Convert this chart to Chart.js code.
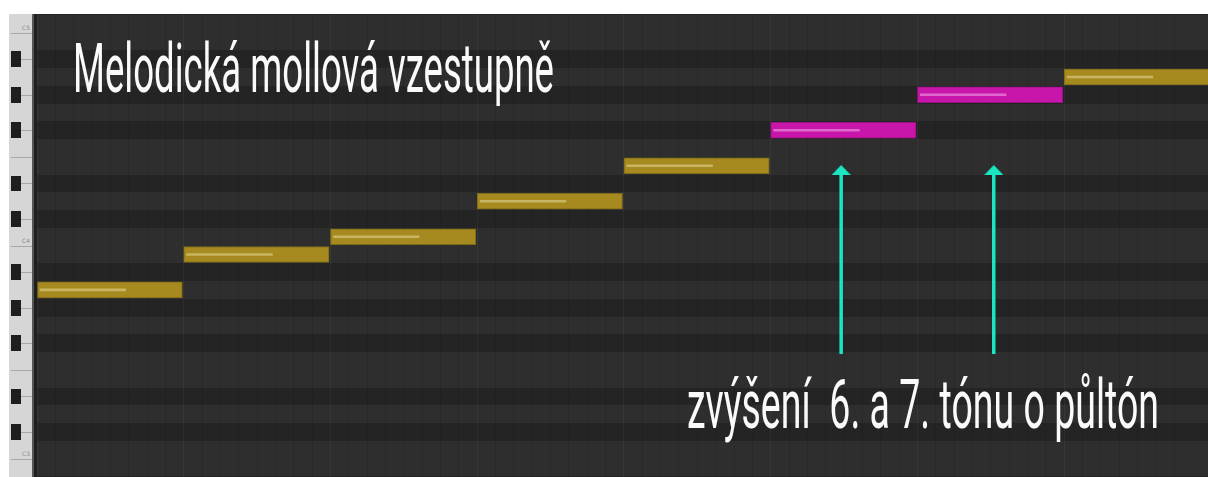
<!DOCTYPE html>
<html>
<head>
<meta charset="utf-8">
<script src="https://cdn.jsdelivr.net/npm/chart.js"></script>
<style>
  html, body { margin: 0; padding: 0; background: #fff; overflow: hidden; }
  #wrap { width: 1208px; height: 477px; }
</style>
</head>
<body>
<div id="wrap"><canvas id="roll"></canvas></div>
<script>
// Melodic minor ascending, A3 -> A4 (MIDI pitches)
const noteNames = ['A3', 'B3', 'C4', 'D4', 'E4', 'F#4', 'G#4', 'A4'];
const pitches = [57, 59, 60, 62, 64, 66, 68, 69];
const starts = [0, 1, 2, 3, 4, 5, 6, 7];
const lengths = [0.99, 0.99, 0.99, 0.99, 0.99, 0.99, 0.99, 0.99];
const velocities = [0.6, 0.6, 0.6, 0.6, 0.6, 0.6, 0.6, 0.6];
const raised = [false, false, false, false, false, true, true, false];

// arrows under the raised 6th and 7th
const arrowX = [5.48, 6.52];
const arrowFrom = 53.39;
const arrowTo = 63.76;

const titleText = 'Melodická mollová vzestupně';
const noteText = 'zvýšení  6. a 7. tónu o půltón';

const gold = '#a68a1f', goldEdge = '#7f6a16', goldHi = '#c9b463';
const pink = '#c916aa', pinkEdge = '#981182', pinkHi = '#df68cd';
const teal = '#1ae6c2';

const blackKeys = [1, 3, 6, 8, 10];

// arrow head as a point style
const head = document.createElement('canvas');
head.width = 19; head.height = 10;
const hc = head.getContext('2d');
hc.fillStyle = teal;
hc.beginPath(); hc.moveTo(9.5, 0); hc.lineTo(19, 10); hc.lineTo(0, 10); hc.closePath(); hc.fill();

const noteData = pitches.map((p, i) => ({ y: p, x: [starts[i], starts[i] + lengths[i]] }));
const hiData = pitches.map((p, i) => ({ y: p, x: [starts[i] + 0.02, starts[i] + velocities[i] * lengths[i] + 0.01] }));

const pianoRoll = {
  id: 'pianoRoll',
  beforeDraw(chart) {
    const { ctx, chartArea: a, scales: { y } } = chart;
    ctx.save();
    const lo = Math.floor(y.min) - 1, hi = Math.ceil(y.max) + 1;
    // grid rows: light base, dark rows for black keys
    ctx.fillStyle = '#2e2e2e';
    ctx.fillRect(a.left, a.top, a.right - a.left, a.bottom - a.top);
    for (let p = lo; p <= hi; p++) {
      if (!blackKeys.includes(((p % 12) + 12) % 12)) continue;
      const t0 = Math.round(Math.max(y.getPixelForValue(p + 0.5), a.top));
      const b0 = Math.round(Math.min(y.getPixelForValue(p - 0.5), a.bottom));
      if (b0 <= t0) continue;
      ctx.fillStyle = '#242424';
      ctx.fillRect(a.left, t0, a.right - a.left, b0 - t0);
    }
    // keyboard
    const t = a.top, h = a.bottom - a.top;
    ctx.beginPath();
    ctx.rect(0, t, a.left, h);
    ctx.clip();
    ctx.fillStyle = '#d6d6d6';
    ctx.fillRect(9, t, 23, h);
    for (let p = lo; p <= hi; p++) {
      const top = y.getPixelForValue(p + 0.5), bot = y.getPixelForValue(p - 0.5);
      const mid = y.getPixelForValue(p);
      const pc = ((p % 12) + 12) % 12;
      ctx.fillStyle = '#a8a8a8';
      if (blackKeys.includes(pc)) {
        ctx.fillRect(21, Math.round(mid), 11, 1);
        ctx.fillStyle = '#1e1e1e';
        ctx.fillRect(11, Math.round(top) + 1, 10, Math.round(bot) - Math.round(top) - 2);
      } else if (pc === 0 || pc === 5) {
        ctx.fillRect(11, Math.round(bot), 21, 1);
      }
      if (pc === 0) {
        ctx.fillStyle = '#8a8a8a';
        ctx.font = '6px "DejaVu Sans"';
        ctx.textBaseline = 'middle';
        ctx.fillText('C' + (Math.floor(p / 12) - 1), 22, mid + 5);
      }
    }
    ctx.fillStyle = '#555';
    ctx.fillRect(32, t, 2, h);
    ctx.fillStyle = '#1f1f1f';
    ctx.fillRect(34, t, 3, h);
    ctx.restore();
  },
  afterDraw(chart) {
    const { ctx } = chart;
    const drawCondensed = (text, left, baseline, width, size) => {
      ctx.save();
      ctx.font = '400 ' + size + 'px Roboto';
      const w = ctx.measureText(text).width;
      ctx.translate(left, baseline);
      ctx.scale(width / w, 1);
      ctx.fillStyle = '#fafafa';
      ctx.textBaseline = 'alphabetic';
      ctx.fillText(text, 0, 0);
      ctx.restore();
    };
    drawCondensed(titleText, 73, 92, 481, 69);
    drawCondensed(noteText, 687, 428, 472, 69);
  }
};

new Chart(document.getElementById('roll'), {
  type: 'bar',
  data: {
    datasets: [
      {
        type: 'bar',
        indexAxis: 'y',
        data: hiData,
        grouped: false,
        barThickness: 2,
        backgroundColor: raised.map(r => r ? pinkHi : goldHi),
        borderWidth: 0,
        order: 0
      },
      {
        type: 'bar',
        indexAxis: 'y',
        data: noteData,
        grouped: false,
        barThickness: 16,
        backgroundColor: raised.map(r => r ? pink : gold),
        borderColor: raised.map(r => r ? pinkEdge : goldEdge),
        borderWidth: 1,
        borderSkipped: false,
        order: 1
      },
      ...arrowX.map(x => ({
        type: 'line',
        data: [{ x: x, y: arrowFrom }, { x: x, y: arrowTo }],
        borderColor: teal,
        borderWidth: 3.5,
        borderCapStyle: 'butt',
        pointRadius: c => c.dataIndex === 1 ? 5 : 0,
        pointBorderWidth: 0,
        pointStyle: c => c.dataIndex === 1 ? head : 'circle',
        pointHoverRadius: 0,
        order: 2
      }))
    ]
  },
  options: {
    responsive: true,
    maintainAspectRatio: false,
    animation: false,
    events: [],
    layout: { autoPadding: false, padding: { left: 37, top: 14, right: 0, bottom: 0 } },
    plugins: { legend: { display: false }, tooltip: { enabled: false }, title: { display: false } },
    scales: {
      x: {
        type: 'linear',
        min: 0,
        max: 7.98,
        offset: false,
        ticks: { display: false, stepSize: 0.125, autoSkip: false, padding: 0 },
        border: { display: false },
        grid: {
          drawTicks: false,
          offset: false,
          lineWidth: 1,
          color: c => (c.tick && Number.isInteger(c.tick.value)) ? 'rgba(255,255,255,0.045)' : 'rgba(0,0,0,0.1)'
        }
      },
      y: {
        type: 'linear',
        min: 46.46,
        max: 72.55,
        offset: false,
        display: false
      }
    }
  },
  plugins: [pianoRoll]
});
</script>
</body>
</html>
